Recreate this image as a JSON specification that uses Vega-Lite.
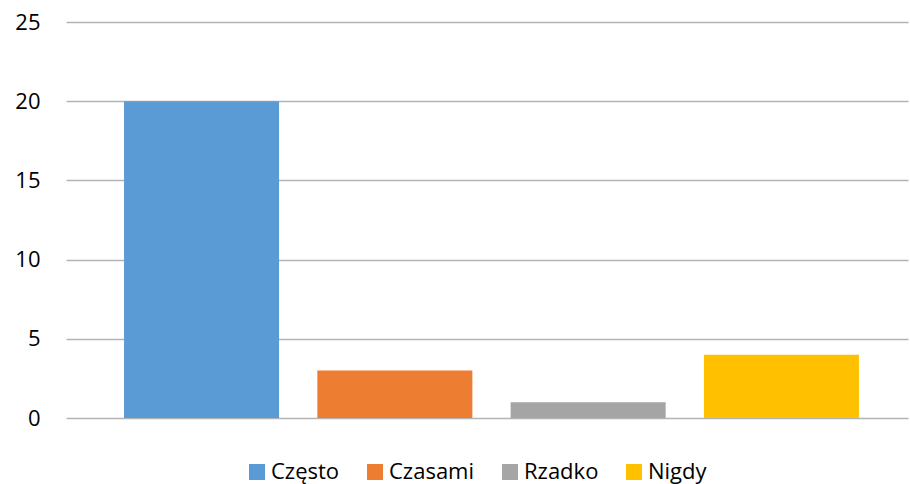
{
  "$schema": "https://vega.github.io/schema/vega-lite/v6.json",
  "autosize": "none",
  "width": 842,
  "height": 396,
  "padding": {"left": 66, "top": 22, "right": 2, "bottom": 66},
  "background": "white",
  "config": {
    "view": {"stroke": null},
    "font": "Open Sans"
  },
  "data": {
    "values": [
      {"kategoria": "Często", "wartosc": 20},
      {"kategoria": "Czasami", "wartosc": 3},
      {"kategoria": "Rzadko", "wartosc": 1},
      {"kategoria": "Nigdy", "wartosc": 4}
    ]
  },
  "mark": {"type": "bar"},
  "encoding": {
    "x": {
      "field": "kategoria",
      "type": "nominal",
      "sort": ["Często", "Czasami", "Rzadko", "Nigdy"],
      "scale": {"paddingInner": 0.198, "paddingOuter": 0.277, "align": 0.542},
      "axis": null
    },
    "y": {
      "field": "wartosc",
      "type": "quantitative",
      "scale": {"domain": [0, 25], "nice": false},
      "axis": {
        "values": [0, 5, 10, 15, 20, 25],
        "title": null,
        "domain": false,
        "ticks": false,
        "labelFontSize": 22,
        "labelColor": "#000000",
        "labelPadding": 26,
        "gridColor": "#B3B3B3",
        "gridWidth": 1.6
      }
    },
    "color": {
      "field": "kategoria",
      "type": "nominal",
      "sort": ["Często", "Czasami", "Rzadko", "Nigdy"],
      "scale": {
        "domain": ["Często", "Czasami", "Rzadko", "Nigdy"],
        "range": ["#5B9BD5", "#ED7D31", "#A5A5A5", "#FFC000"]
      },
      "legend": {
        "title": null,
        "orient": "none",
        "legendX": 180,
        "legendY": 439,
        "direction": "horizontal",
        "symbolType": "square",
        "symbolSize": 256,
        "symbolStrokeWidth": 0,
        "symbolOpacity": 1,
        "labelFontSize": 22,
        "labelColor": "#000000",
        "labelOffset": 3,
        "columnPadding": 24
      }
    }
  }
}
